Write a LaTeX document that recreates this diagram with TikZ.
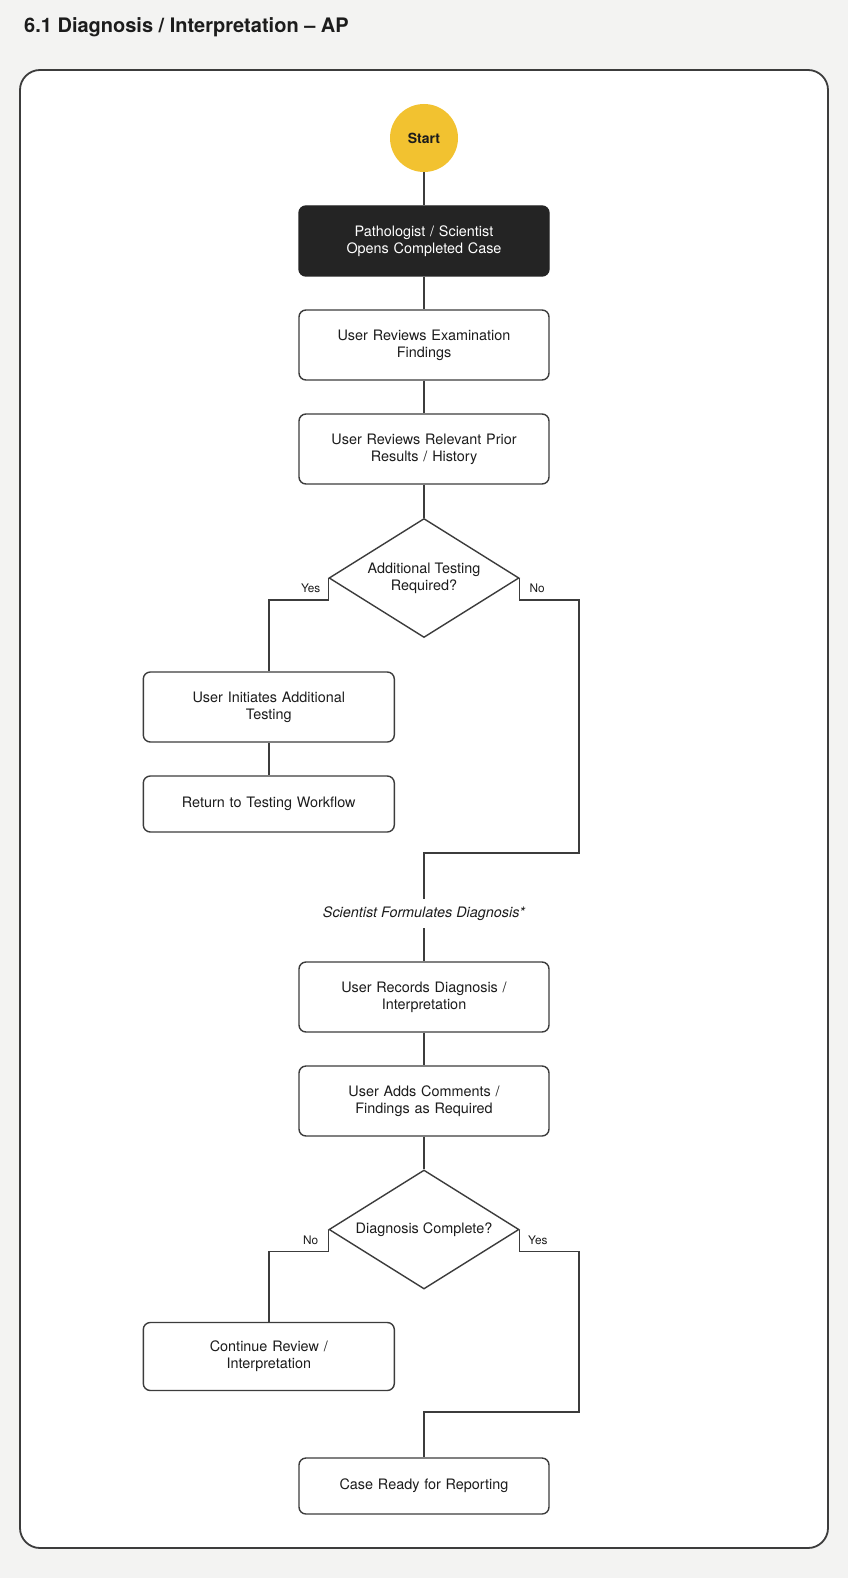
\documentclass[tikz,border=0pt]{standalone}
\usepackage{fontspec}
\setmainfont{TeX Gyre Heros}
\usetikzlibrary{shapes.geometric,calc}
\definecolor{bg}{HTML}{F3F3F2}
\definecolor{ln}{HTML}{3C3C3C}
\definecolor{txt}{HTML}{1C1C1C}
\definecolor{darkbox}{HTML}{242424}
\definecolor{startc}{HTML}{F2C230}
\tikzset{
  boxstep/.style={draw=ln, line width=1.4pt, rounded corners=7pt, fill=white,
    minimum width=250pt, minimum height=70pt, inner sep=0pt, text width=235pt,
    align=center, text=txt, font=\fontsize{14.4}{17}\selectfont},
  darkstep/.style={boxstep, fill=darkbox, draw=darkbox, text=white},
  decide/.style={diamond, draw=ln, line width=1.4pt, fill=white, aspect=1.6,
    minimum width=190pt, minimum height=119pt, inner sep=0pt, align=center,
    text=txt, font=\fontsize{14.4}{17}\selectfont},
  startnode/.style={circle, fill=startc, minimum size=68pt, inner sep=0pt,
    text=txt, font=\fontsize{14}{17}\selectfont\bfseries},
  conn/.style={draw=ln, line width=1.4pt},
  lbl/.style={text=txt, font=\fontsize{11.8}{13}\selectfont, inner sep=0pt},
}
\begin{document}
\begin{tikzpicture}[x=1pt,y=-1pt]
\fill[bg] (0,0) rectangle (848,1578);
\useasboundingbox (0,0) rectangle (848,1578);
\node[anchor=base west, inner sep=0pt, text=txt, font=\fontsize{20}{24}\selectfont\bfseries] (title) at (24,32.3) {6.1 Diagnosis / Interpretation – AP};
\draw[draw=ln, line width=1.8pt, fill=white, rounded corners=20pt] (20,70) rectangle (828,1548);

\node[startnode] (start) at (424,138) {Start};
\node[darkstep] (open) at (424,241) {Pathologist / Scientist\\Opens Completed Case};
\node[boxstep] (exam) at (424,345) {User Reviews Examination\\Findings};
\node[boxstep] (prior) at (424,449) {User Reviews Relevant Prior\\Results / History};
\node[decide] (d1) at (424,578) {Additional Testing\\Required?};
\node[boxstep, minimum width=251pt] (init) at (268.8,707) {User Initiates Additional\\Testing};
\node[boxstep, minimum width=251pt, minimum height=56pt] (ret) at (268.8,804) {Return to Testing Workflow};
\node[text=txt, font=\fontsize{14.4}{17}\selectfont\itshape, inner sep=0pt, minimum height=29pt] (sfd) at (424,913.5) {Scientist Formulates Diagnosis*};
\node[boxstep] (rec) at (424,997) {User Records Diagnosis /\\Interpretation};
\node[boxstep] (com) at (424,1101) {User Adds Comments /\\Findings as Required};
\node[decide] (d2) at (424,1229.5) {Diagnosis Complete?};
\node[boxstep, minimum width=251pt, minimum height=68pt] (cont) at (268.8,1356.5) {Continue Review /\\Interpretation};
\node[boxstep, minimum height=56pt] (ready) at (424,1486) {Case Ready for Reporting};

\coordinate (j1) at (579,853);
\coordinate (j2) at (579,1412);

\draw[conn] (start) -- (open);
\draw[conn] (open) -- (exam);
\draw[conn] (exam) -- (prior);
\draw[conn] (prior) -- (d1);
\draw[conn] (d1.west) -- ++(0,22) -| (init.north);
\draw[conn] (init) -- (ret);
\draw[conn] (d1.east) -- ++(0,22) -| (j1) -| (sfd.north);
\draw[conn] (sfd.south) -- (rec.north);
\draw[conn] (rec) -- (com);
\draw[conn] (com) -- (d2);
\draw[conn] (d2.west) -- ++(0,22) -| (cont.north);
\draw[conn] (d2.east) -- ++(0,22) -| (j2) -| (ready.north);

\node[lbl, anchor=east] (y1) at (320.5,588) {Yes};
\node[lbl, anchor=west] (n1) at (529.5,588) {No};
\node[lbl, anchor=east] (n2) at (318.5,1240) {No};
\node[lbl, anchor=west] (y2) at (528,1240) {Yes};
\end{tikzpicture}
\end{document}
